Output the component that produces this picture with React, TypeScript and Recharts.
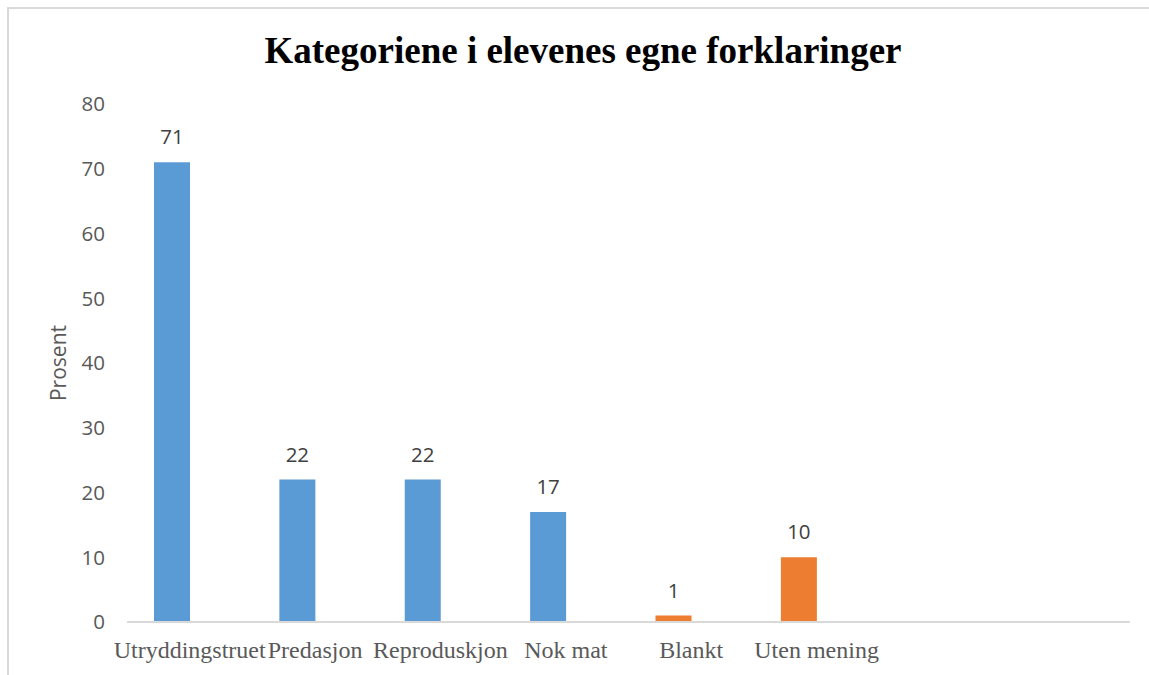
import { BarChart, Bar, XAxis, YAxis, Cell, LabelList, Label } from "recharts";

// categories on the x axis (two empty slots at the end, as in the original)
const categories = ["Utryddingstruet", "Predasjon", "Reproduskjon", "Nok mat", "Blankt", "Uten mening", "", ""];
const values: (number | null)[] = [71, 22, 22, 17, 1, 10, null, null];
const barColors = ["#5B9BD5", "#5B9BD5", "#5B9BD5", "#5B9BD5", "#ED7D31", "#ED7D31", "#5B9BD5", "#5B9BD5"];
const yTicks = [0, 10, 20, 30, 40, 50, 60, 70, 80];

const data = categories.map((name, i) => ({ name, prosent: values[i], tom: null }));

export default function App() {
  return (
    <div style={{ position: "absolute", left: 0, top: 0, width: 1149, height: 675, background: "#fff", overflow: "hidden" }}>
      <div
        style={{
          position: "absolute",
          left: 7,
          top: 7,
          width: 1160,
          height: 700,
          borderTop: "2px solid #d9d9d9",
          borderLeft: "2px solid #d9d9d9",
        }}
      />
      <div
        style={{
          position: "absolute",
          left: 0,
          top: 29,
          width: 1166,
          textAlign: "center",
          fontFamily: "'Liberation Serif', 'Times New Roman', serif",
          fontWeight: "bold",
          fontSize: 37,
          color: "#000",
        }}
      >
        Kategoriene i elevenes egne forklaringer
      </div>
      <BarChart
        width={1149}
        height={675}
        data={data}
        margin={{ top: 104, right: 19, bottom: 23, left: 0 }}
        barGap={0}
        style={{ position: "absolute", left: 0, top: 0 }}
      >
        <XAxis
          dataKey="name"
          height={30}
          axisLine={{ stroke: "#d9d9d9", strokeWidth: 2 }}
          tickLine={false}
          tickSize={0}
          tickMargin={19}
          interval={0}
          tick={{ fill: "#595959", fontSize: 24, fontFamily: "'Liberation Serif', 'Times New Roman', serif" }}
        />
        <YAxis
          width={127}
          domain={[0, 80]}
          ticks={yTicks}
          axisLine={false}
          tickLine={false}
          tickSize={0}
          tickMargin={22}
          tick={{ fill: "#595959", fontSize: 20.5, fontFamily: "'Open Sans', sans-serif" }}
        >
          <Label
            value="Prosent"
            angle={-90}
            position="center"
            dx={-5}
            style={{ fill: "#595959", fontSize: 21, fontFamily: "'Open Sans', sans-serif" }}
          />
        </YAxis>
        <Bar dataKey="prosent" barSize={36} isAnimationActive={false}>
          {data.map((d, i) => (
            <Cell key={i} fill={barColors[i]} />
          ))}
          <LabelList
            dataKey="prosent"
            position="top"
            offset={18}
            style={{ fill: "#404040", fontSize: 20.5, fontFamily: "'Open Sans', sans-serif" }}
          />
        </Bar>
        <Bar dataKey="tom" barSize={36} fill="#ED7D31" isAnimationActive={false} />
      </BarChart>
    </div>
  );
}
